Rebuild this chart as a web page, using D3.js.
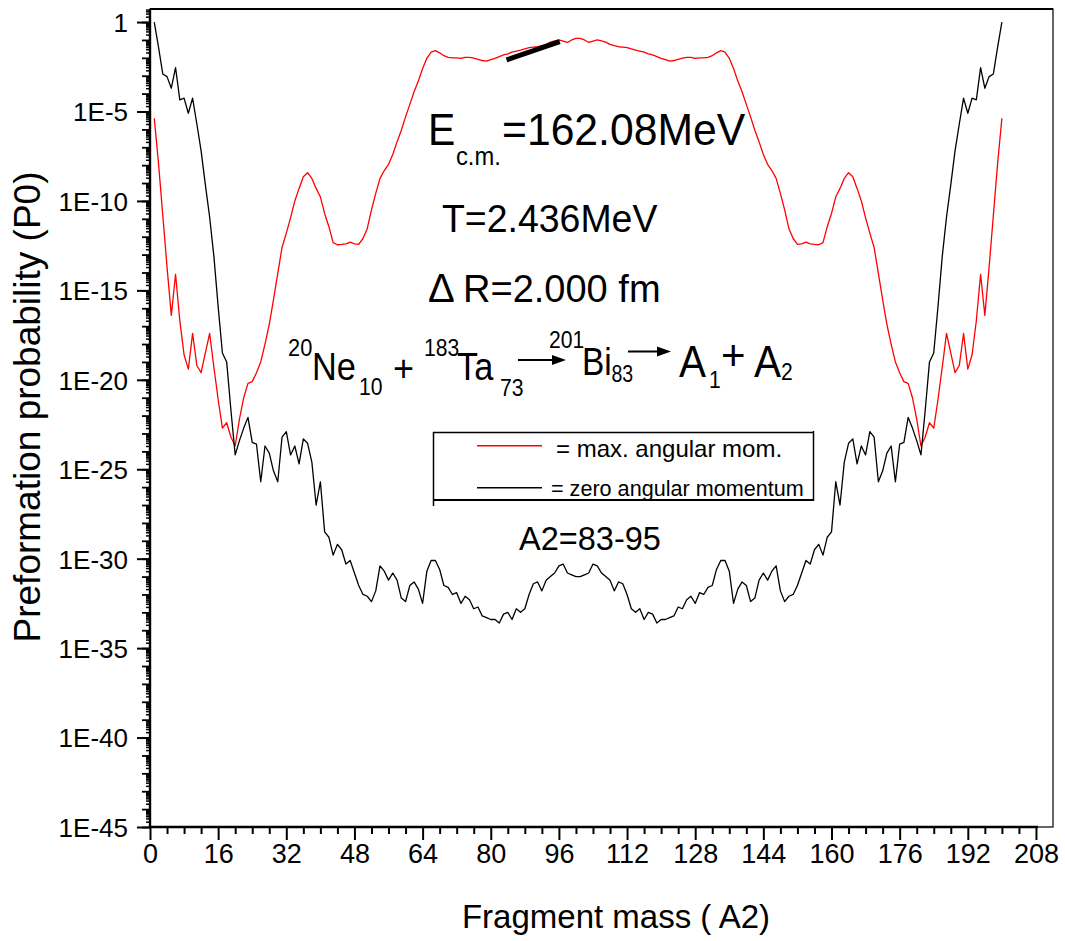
<!DOCTYPE html>
<html>
<head>
<meta charset="utf-8">
<script src="https://cdn.jsdelivr.net/npm/d3@7/dist/d3.min.js"></script>
<style>
  html, body { margin: 0; padding: 0; background: #fff; }
  text { font-family: "Liberation Sans", Arial, Helvetica, sans-serif; fill: #000; }
</style>
</head>
<body>
<svg id="chart" width="1065" height="941"></svg>
<script>
// ---------------- DATA ----------------
// Fragment mass A2 = 1 .. 200
const fragmentMass = d3.range(1, 201);

// log10 of preformation probability, zero angular momentum (black)
const log10P_zeroL = [
  0, -1.4, -2.9, -3.05, -3.7, -2.55, -4.35, -4.25, -5.1, -4.25,
  -5.7, -7.2, -9.1, -10.9, -13.1, -15.9, -18.5, -19.0, -21.7, -24.2,
  -23.4, -22.7, -22.1, -23.5, -23.6, -25.7, -23.7, -24.1, -25.1, -25.7,
  -23.2, -22.9, -24.2, -23.7, -24.7, -23.3, -23.55, -24.6, -27.0, -25.7,
  -28.5, -28.8, -29.8, -29.2, -29.5, -30.3, -30.1, -30.8, -31.5, -32.0,
  -32.1, -32.4, -31.8, -30.4, -30.7, -31.2, -30.8, -31.2, -32.2, -32.4,
  -31.5, -31.3, -31.7, -32.5, -30.7, -30.1, -30.1, -30.6, -31.5, -31.6,
  -32.0, -31.9, -32.5, -32.1, -32.3, -32.8, -32.7, -33.2, -33.3, -33.4,
  -33.4, -33.6, -33.1, -33.0, -33.4, -32.8, -33.0, -32.8, -32.0, -31.4,
  -31.3, -31.8, -31.2, -31.0, -30.8, -30.4, -30.3, -30.8, -30.9, -31.0,
  -31.0, -30.9, -30.8, -30.3, -30.4, -30.8, -31.0, -31.2, -31.8, -31.3,
  -31.4, -32.0, -32.8, -33.0, -32.8, -33.4, -33.0, -33.1, -33.6, -33.4,
  -33.4, -33.3, -33.2, -32.7, -32.8, -32.3, -32.1, -32.5, -31.9, -32.0,
  -31.6, -31.5, -30.6, -30.1, -30.1, -30.7, -32.5, -31.7, -31.3, -31.5,
  -32.4, -32.2, -31.2, -30.8, -31.2, -30.7, -30.4, -31.8, -32.4, -32.1,
  -32.0, -31.5, -30.8, -30.1, -30.3, -29.5, -29.2, -29.8, -28.8, -28.5,
  -25.7, -27.0, -24.6, -23.55, -23.3, -24.7, -23.7, -24.2, -22.9, -23.2,
  -25.7, -25.1, -24.1, -23.7, -25.7, -23.6, -23.5, -22.1, -22.7, -23.4,
  -24.2, -21.7, -19.0, -18.5, -15.9, -13.1, -10.9, -9.1, -7.2, -5.7,
  -4.25, -5.1, -4.25, -4.35, -2.55, -3.7, -3.05, -2.9, -1.4, 0
];

// log10 of preformation probability, maximum angular momentum (red)
const log10P_maxL = [
  -5.38, -7.9, -10.8, -13.7, -16.4, -14.1, -16.7, -18.6, -19.4, -17.4,
  -19.2, -19.6, -18.5, -17.4, -19.3, -21.1, -22.7, -22.4, -23.2, -23.7,
  -22.2, -21.0, -20.2, -20.1, -19.6, -19.0, -18.0, -16.9, -15.5, -14.05,
  -12.6, -11.8, -10.95, -10.0, -9.3, -8.65, -8.42, -8.74, -9.3, -9.77,
  -10.7, -11.44, -12.33, -12.45, -12.43, -12.4, -12.3, -12.4, -12.43, -12.1,
  -11.55, -10.5, -9.58, -8.74, -8.3, -7.95, -7.4, -6.7, -6.05, -5.3,
  -4.6, -3.9, -3.3, -2.6, -2.03, -1.68, -1.6, -1.72, -1.88, -1.97,
  -2.0, -2.0, -2.03, -1.98, -1.97, -2.02, -2.08, -2.15, -2.18, -2.1,
  -2.03, -1.93, -1.84, -1.78, -1.68, -1.62, -1.57, -1.5, -1.43, -1.4,
  -1.38, -1.32, -1.25, -1.12, -1.05, -1.0, -1.06, -1.14, -1.0, -0.91,
  -0.91, -1.0, -1.14, -1.06, -1.0, -1.05, -1.12, -1.25, -1.32, -1.38,
  -1.4, -1.43, -1.5, -1.57, -1.62, -1.68, -1.78, -1.84, -1.93, -2.03,
  -2.1, -2.18, -2.15, -2.08, -2.02, -1.97, -1.98, -2.03, -2.0, -2.0,
  -1.97, -1.88, -1.72, -1.6, -1.68, -2.03, -2.6, -3.3, -3.9, -4.6,
  -5.3, -6.05, -6.7, -7.4, -7.95, -8.3, -8.74, -9.58, -10.5, -11.55,
  -12.1, -12.43, -12.4, -12.3, -12.4, -12.43, -12.45, -12.33, -11.44, -10.7,
  -9.77, -9.3, -8.74, -8.42, -8.65, -9.3, -10.0, -10.95, -11.8, -12.6,
  -14.05, -15.5, -16.9, -18.0, -19.0, -19.6, -20.1, -20.2, -21.0, -22.2,
  -23.7, -23.2, -22.4, -22.7, -21.1, -19.3, -17.4, -18.5, -19.6, -19.2,
  -17.4, -19.4, -18.6, -16.7, -14.1, -16.4, -13.7, -10.8, -7.9, -5.38
];

// thick black stroke drawn over the red plateau: [A2, log10 P]
const overlayStroke = [[83.7, -2.12], [96.2, -1.10]];

// axes
const xTicksMajor = d3.range(0, 209, 16);
const xTicksMinor = d3.range(0, 209, 4);
const yMajorExponents = [0, -5, -10, -15, -20, -25, -30, -35, -40, -45];
const yTickLabels = ["1", "1E-5", "1E-10", "1E-15", "1E-20", "1E-25", "1E-30", "1E-35", "1E-40", "1E-45"];
const xDomain = [0, 212];
const yDomainExp = [-45, 0.73];

const legendItems = [
  { label: "= max. angular mom.", color: "#ff0000" },
  { label: "= zero angular momentum", color: "#000000" }
];

// ---------------- DRAWING ----------------
const svg = d3.select("#chart");
const L = 150, R = 1053, T = 9, B = 827;

const x = d3.scaleLinear().domain(xDomain).range([L, R]);
const y = d3.scaleLog().domain([Math.pow(10, yDomainExp[0]), Math.pow(10, yDomainExp[1])]).range([B, T]);

// frame
svg.append("rect").attr("x", L).attr("y", T).attr("width", R - L).attr("height", B - T)
  .attr("fill", "none").attr("stroke", "#000").attr("stroke-width", 1.2);
svg.append("line").attr("x1", L).attr("x2", R).attr("y1", T).attr("y2", T)
  .attr("stroke", "#000").attr("stroke-width", 2);

// X axis
const xAxisMajor = d3.axisBottom(x).tickValues(xTicksMajor).tickSize(13).tickFormat(d => d);
const gx = svg.append("g").attr("transform", `translate(0,${B})`).call(xAxisMajor);
gx.select(".domain").remove();
gx.selectAll(".tick line").attr("stroke-width", 2);
gx.selectAll(".tick text").attr("font-size", 27).attr("y", 36).attr("dy", 0)
  .style("font-family", '"Liberation Sans", Arial, sans-serif');
const gxm = svg.append("g").attr("transform", `translate(0,${B})`)
  .call(d3.axisBottom(x).tickValues(xTicksMinor.filter(v => v % 16 !== 0)).tickSize(7).tickFormat(""));
gxm.select(".domain").remove();
gxm.selectAll(".tick line").attr("stroke-width", 2);
svg.append("line").attr("x1", x(0) - 1).attr("x2", x(208) + 2).attr("y1", B).attr("y2", B)
  .attr("stroke", "#000").attr("stroke-width", 2.4);

// Y axis: major ticks every 5 decades, decade ticks, minor 2..9
const decadeVals = d3.range(-45, 1).map(e => Math.pow(10, e));
const minorVals = [];
for (let e = -45; e <= 0; e++) {
  for (let m = 2; m <= 9; m++) {
    const v = m * Math.pow(10, e);
    if (Math.log10(v) <= yDomainExp[1]) minorVals.push(v);
  }
}
const gyMinor = svg.append("g").attr("transform", `translate(${L},0)`)
  .call(d3.axisLeft(y).tickValues(minorVals).tickSize(4).tickFormat(""));
gyMinor.select(".domain").remove();
gyMinor.selectAll(".tick line").attr("stroke-width", 1.5);
const gyDec = svg.append("g").attr("transform", `translate(${L},0)`)
  .call(d3.axisLeft(y).tickValues(decadeVals).tickSize(8).tickFormat(""));
gyDec.select(".domain").remove();
gyDec.selectAll(".tick line").attr("stroke-width", 1.8);
const gyMaj = svg.append("g").attr("transform", `translate(${L},0)`)
  .call(d3.axisLeft(y).tickValues(yMajorExponents.map(e => Math.pow(10, e))).tickSize(13)
    .tickFormat((d, i) => yTickLabels[i]));
gyMaj.select(".domain").remove();
gyMaj.selectAll(".tick line").attr("stroke-width", 2);
gyMaj.selectAll(".tick text").attr("font-size", 26).attr("x", -22).attr("dy", "0.36em")
  .style("font-family", '"Liberation Sans", Arial, sans-serif');
svg.append("line").attr("x1", L).attr("x2", L).attr("y1", T).attr("y2", B + 1)
  .attr("stroke", "#000").attr("stroke-width", 2.4);

// curves
const line = d3.line().x(d => x(d[0])).y(d => y(Math.pow(10, d[1])));
const redData = fragmentMass.map((a, i) => [a, log10P_maxL[i]]);
const blackData = fragmentMass.map((a, i) => [a, log10P_zeroL[i]]);
svg.append("path").attr("d", line(redData)).attr("fill", "none")
  .attr("stroke", "#ff0000").attr("stroke-width", 1.3).attr("stroke-linejoin", "round");
svg.append("path").attr("d", line(blackData)).attr("fill", "none")
  .attr("stroke", "#000").attr("stroke-width", 1.3).attr("stroke-linejoin", "round");
svg.append("path").attr("d", line(overlayStroke)).attr("fill", "none")
  .attr("stroke", "#000").attr("stroke-width", 5);

// axis titles
svg.append("text").attr("x", 616).attr("y", 928).attr("text-anchor", "middle")
  .attr("font-size", 33).text("Fragment mass ( A2)");
svg.append("text").attr("transform", "translate(40,407) rotate(-90)").attr("text-anchor", "middle")
  .attr("font-size", 37).text("Preformation probability (P0)");

// annotations (sx = horizontal condensing of the glyphs, as in the original)
function txt(xp, yp, s, size, sx) {
  const t = svg.append("text").attr("font-size", size).text(s);
  if (sx && sx !== 1) {
    t.attr("transform", `translate(${xp},${yp}) scale(${sx},1)`);
  } else {
    t.attr("x", xp).attr("y", yp);
  }
  return t;
}
txt(428, 145, "E", 44, 0.93);
txt(456, 165, "c.m.", 25, 0.95);
txt(502, 145, "=162.08MeV", 44, 0.97);
txt(442, 232, "T=2.436MeV", 39, 0.96);
txt(428, 302, "\u0394", 40, 1);
txt(463, 302, "R=2.000 fm", 39, 0.975);

// reaction line
txt(288, 356, "20", 23, 0.95);
txt(312, 380, "Ne", 39, 0.88);
txt(359, 395, "10", 23, 0.92);
txt(393, 381, "+", 36, 1);
txt(424, 356, "183", 23, 0.92);
txt(457, 380, "Ta", 39, 0.88);
txt(500, 396, "73", 23, 0.92);
txt(549, 348, "201", 23, 0.92);
txt(582, 375, "Bi", 38, 0.88);
txt(611.5, 381.5, "83", 23, 0.85);
txt(679, 377, "A", 45, 0.9);
txt(709, 388, "1", 23, 0.92);
txt(721, 370, "+", 42, 1);
txt(754, 377, "A", 45, 0.9);
txt(781, 380, "2", 23, 0.92);

function arrow(x1, x2, yy) {
  svg.append("line").attr("x1", x1).attr("x2", x2 - 10).attr("y1", yy).attr("y2", yy)
    .attr("stroke", "#000").attr("stroke-width", 1.8);
  svg.append("path").attr("d", `M${x2},${yy} L${x2 - 14},${yy - 5} L${x2 - 14},${yy + 5} Z`).attr("fill", "#000");
}
arrow(518, 566, 360);
arrow(628, 671, 351.5);

// legend box
const lg = svg.append("g");
lg.append("line").attr("x1", 433).attr("x2", 814).attr("y1", 432.5).attr("y2", 432.5).attr("stroke", "#000").attr("stroke-width", 1.5);
lg.append("line").attr("x1", 433.5).attr("x2", 433.5).attr("y1", 432).attr("y2", 506).attr("stroke", "#000").attr("stroke-width", 1.5);
lg.append("line").attr("x1", 433).attr("x2", 814).attr("y1", 500).attr("y2", 500).attr("stroke", "#000").attr("stroke-width", 2);
lg.append("line").attr("x1", 813.5).attr("x2", 813.5).attr("y1", 431).attr("y2", 501).attr("stroke", "#000").attr("stroke-width", 1.5);
const legendRows = [{ ly: 445.7, ty: 457, tx: 556, fs: 24 }, { ly: 487.7, ty: 496, tx: 551, fs: 21.6 }];
legendItems.forEach((it, i) => {
  const r = legendRows[i];
  lg.append("line").attr("x1", 477).attr("x2", 542).attr("y1", r.ly).attr("y2", r.ly)
    .attr("stroke", it.color).attr("stroke-width", 1.5);
  lg.append("text").attr("x", r.tx).attr("y", r.ty).attr("font-size", r.fs).text(it.label);
});

txt(519, 550, "A2=83-95", 32.5, 1);
</script>
</body>
</html>
